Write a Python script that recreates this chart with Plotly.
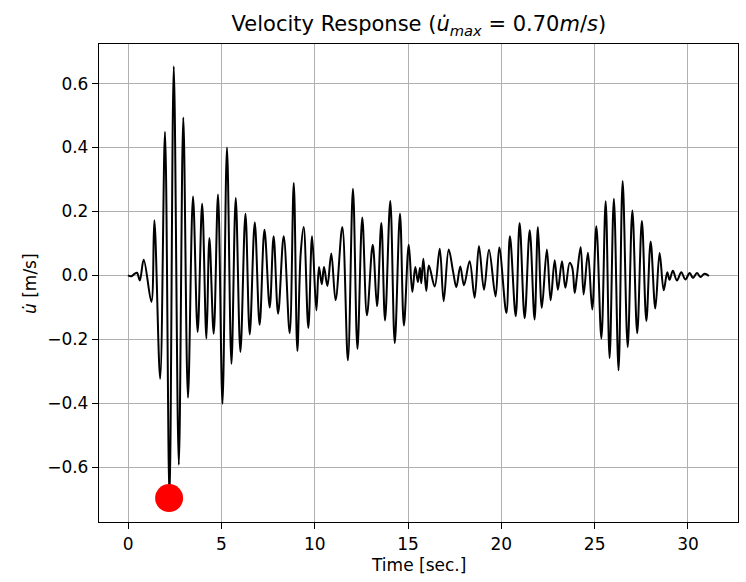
import plotly.graph_objects as go

# Time (s) and velocity (m/s) at the turning points
time_s = [0, 0.18, 0.36, 0.48, 0.63, 0.84, 1.25, 1.41, 1.72, 1.98, 2.22, 2.45, 2.72, 2.96, 3.21, 3.48,
          3.73, 3.97, 4.20, 4.36, 4.59, 4.82, 5.06, 5.30, 5.54, 5.77, 6.02, 6.29, 6.52, 6.79, 7.05, 7.31,
          7.59, 7.80, 8.04, 8.34, 8.66, 8.88, 9.07, 9.25, 9.41, 9.66, 9.86, 10.09, 10.23, 10.38, 10.50,
          10.68, 10.89, 11.12, 11.48, 11.78, 12.05, 12.29, 12.55, 12.80, 13.11, 13.34, 13.57, 13.77,
          14.05, 14.29, 14.57, 14.78, 15.04, 15.23, 15.39, 15.53, 15.64, 15.71, 15.82, 15.98, 16.12,
          16.43, 16.70, 16.91, 17.18, 17.42, 17.59, 17.80, 18.00, 18.30, 18.57, 18.80, 19.07, 19.34,
          19.69, 19.89, 20.27, 20.46, 20.77, 20.98, 21.25, 21.52, 21.78, 21.96, 22.17, 22.44, 22.64,
          22.86, 23.03, 23.25, 23.43, 23.66, 23.80, 23.93, 24.04, 24.25, 24.41, 24.64, 24.87, 25.09,
          25.36, 25.59, 25.80, 26.03, 26.28, 26.50, 26.77, 27.02, 27.28, 27.53, 27.77, 28.00, 28.25,
          28.48, 28.70, 28.89, 29.01, 29.19, 29.41, 29.64, 29.86, 30.09, 30.27, 30.48, 30.67, 30.89,
          31.12]
velocity = [0, -0.003, 0.005, 0.008, -0.016, 0.049, -0.083, 0.172, -0.324, 0.449, -0.697, 0.654, -0.593,
            0.494, -0.383, 0.247, -0.177, 0.224, -0.198, 0.117, -0.183, 0.253, -0.402, 0.400, -0.277,
            0.242, -0.240, 0.193, -0.185, 0.165, -0.155, 0.143, -0.101, 0.122, -0.120, 0.122, -0.181,
            0.289, -0.237, 0.068, 0.151, -0.165, 0.122, -0.110, 0.026, -0.028, 0.026, -0.033, 0.068,
            -0.078, 0.151, -0.266, 0.271, -0.230, 0.181, -0.125, 0.096, -0.097, 0.164, -0.141, 0.233,
            -0.212, 0.193, -0.157, 0.096, -0.052, 0.026, -0.021, 0.024, -0.025, 0.052, -0.049, 0.031,
            -0.035, 0.083, -0.081, 0.081, 0.010, -0.037, 0.028, -0.031, 0.044, -0.070, 0.092, -0.045,
            0.080, -0.066, 0.087, -0.118, 0.122, -0.128, 0.164, -0.134, 0.141, -0.138, 0.151, -0.102,
            0.081, -0.078, 0.047, -0.045, 0.044, -0.039, 0.039, 0.024, -0.055, -0.008, 0.089, -0.060,
            0.071, -0.107, 0.154, -0.198, 0.232, -0.259, 0.240, -0.297, 0.295, -0.224, 0.203, -0.181,
            0.170, -0.143, 0.106, -0.104, 0.070, -0.047, 0.010, -0.014, 0.014, -0.016, 0.010, -0.013,
            0.007, -0.008, 0.007, -0.005, 0.005, -0.002]

peak_time = [2.2]
peak_value = [-0.697]

x_ticks = [0, 5, 10, 15, 20, 25, 30]
y_ticks = [-0.6, -0.4, -0.2, 0.0, 0.2, 0.4, 0.6]

FONT = "DejaVu Sans"

fig = go.Figure()
fig.add_trace(go.Scatter(x=time_s, y=velocity, mode="lines",
                         line=dict(color="black", width=2, shape="spline", smoothing=1.0),
                         hoverinfo="skip", showlegend=False))
fig.add_trace(go.Scatter(x=peak_time, y=peak_value, mode="markers",
                         marker=dict(color="red", size=28, line=dict(width=0)),
                         showlegend=False))

axis_common = dict(showgrid=True, gridcolor="#b0b0b0", gridwidth=1.2,
                   showline=True, linecolor="black", linewidth=1.3, mirror=True,
                   ticks="outside", ticklen=6, tickwidth=1.3, tickcolor="black",
                   zeroline=False, tickfont=dict(family=FONT, size=17, color="black"))

fig.update_xaxes(range=[-1.556, 32.68], tickvals=x_ticks, **axis_common)
fig.update_yaxes(range=[-0.772, 0.724], tickvals=y_ticks, tickformat=".1f", **axis_common)

fig.update_layout(
    width=746, height=582, autosize=False,
    margin=dict(l=99, r=8, t=44, b=60),
    plot_bgcolor="white", paper_bgcolor="white",
    font=dict(family=FONT, color="black"),
    title=dict(text="Velocity Response (<i>u̇</i><sub><i>max</i></sub> = 0.70<i>m</i>/<i>s</i>)",
               x=0.5615, xanchor="center", y=1 - 24 / 582, yanchor="middle",
               font=dict(family=FONT, size=21, color="black")),
    annotations=[
        dict(text="Time [sec.]", xref="paper", yref="paper", x=0.5, y=-0.091,
             xanchor="center", yanchor="middle", showarrow=False,
             font=dict(family=FONT, size=17, color="black")),
        dict(text="<i>u̇</i> [m/s]", xref="paper", yref="paper", x=-0.108, y=0.5,
             xanchor="center", yanchor="middle", showarrow=False, textangle=-90,
             font=dict(family=FONT, size=17, color="black")),
    ],
)

fig.write_html("out.html")
